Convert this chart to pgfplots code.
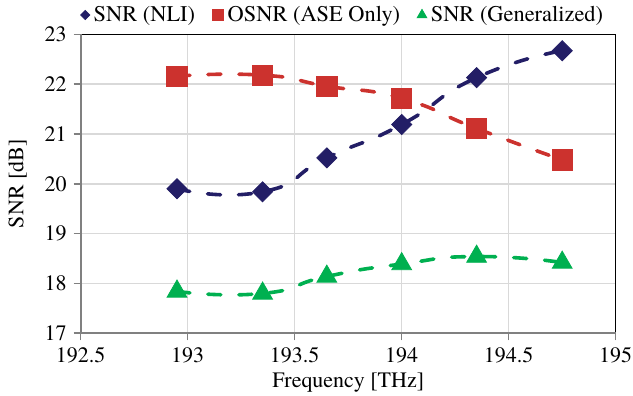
\documentclass[border=0pt]{standalone}
\usepackage{pgfplots}
\pgfplotsset{compat=1.18}
\usepackage{fontspec}
\setmainfont{texgyretermes}[Extension=.otf, UprightFont=*-regular, BoldFont=*-bold, ItalicFont=*-italic, BoldItalicFont=*-bolditalic]
\definecolor{cnavy}{RGB}{35,30,102}
\definecolor{cred}{RGB}{204,50,46}
\definecolor{cgreen}{RGB}{0,176,80}
\definecolor{cgrid}{RGB}{217,217,217}
\definecolor{caxis}{RGB}{128,128,128}
\begin{document}
\rmfamily
\begin{tikzpicture}[font=\rmfamily]
\begin{axis}[
  scale only axis,
  width=267.5pt, height=149.5pt,
  xmin=192.5, xmax=195, ymin=17, ymax=23,
  xtick={192.5,193,193.5,194,194.5,195},
  ytick={17,18,19,20,21,22,23},
  xticklabels={192.5,193,193.5,194,194.5,195},
  /pgf/number format/assume math mode=true,
  tick label style={font=\rmfamily\fontsize{11}{13}\selectfont},
  grid=major,
  major grid style={cgrid, line width=0.75pt},
  axis line style={black, line width=0.7pt},
  tick align=outside, tick pos=left,
  major tick length=3.5pt,
  every tick/.style={caxis, line width=0.8pt},
  xlabel={Frequency [THz]},
  ylabel={SNR [dB]},
  every axis x label/.style={at={(rel axis cs:0.5,0)}, anchor=base, yshift=-27.3pt, font=\rmfamily\fontsize{11}{13}\selectfont},
  every axis y label/.style={at={(rel axis cs:0,0.5)}, anchor=center, rotate=90, yshift=31.6pt, font=\rmfamily\fontsize{11}{13}\selectfont},
  legend style={at={(0.492,1.0645)}, anchor=center, draw=none, fill=none,
    legend columns=3, font=\rmfamily\fontsize{11.2}{13}\selectfont,
    /tikz/every even column/.append style={column sep=6.5pt},
    inner sep=0pt},
  legend image code/.code={\path[#1] plot coordinates {(2.5pt,0pt)};},
  legend cell align=left,
  clip=false,
]
\addplot[cnavy, line width=1.8pt, dash pattern=on 6.5pt off 9pt, line cap=round, smooth, tension=1, forget plot]
  coordinates {(192.95,19.9) (193.35,19.84) (193.65,20.52) (194.0,21.19) (194.35,22.13) (194.75,22.67)};
\addplot[cred, line width=1.8pt, dash pattern=on 6.5pt off 9pt, line cap=round, smooth, tension=1, forget plot]
  coordinates {(192.95,22.16) (193.35,22.18) (193.65,21.96) (194.0,21.71) (194.35,21.11) (194.75,20.48)};
\addplot[cgreen, line width=1.8pt, dash pattern=on 6.5pt off 9pt, line cap=round, smooth, tension=1, forget plot]
  coordinates {(192.95,17.84) (193.35,17.8) (193.65,18.14) (194.0,18.39) (194.35,18.54) (194.75,18.42)};
\addplot[only marks, mark=square*, mark size=3.55pt, mark options={rotate=45, fill=cnavy, draw=cnavy, solid}, forget plot]
  coordinates {(192.95,19.9) (193.35,19.84) (193.65,20.52) (194.0,21.19) (194.35,22.13) (194.75,22.67)};
\addplot[only marks, mark=square*, mark size=5.1pt, mark options={fill=cred, draw=cred, solid}, forget plot]
  coordinates {(192.95,22.16) (193.35,22.18) (193.65,21.96) (194.0,21.71) (194.35,21.11) (194.75,20.48)};
\addplot[only marks, mark=triangle*, mark size=5.7pt, mark options={fill=cgreen, draw=cgreen, solid}, forget plot]
  coordinates {(192.95,17.84) (193.35,17.8) (193.65,18.14) (194.0,18.39) (194.35,18.54) (194.75,18.42)};
\addlegendimage{only marks, mark=square*, mark size=1.6pt, mark options={rotate=45, fill=cnavy, draw=cnavy}}
\addlegendentry{SNR (NLI)}
\addlegendimage{only marks, mark=square*, mark size=2.9pt, mark options={fill=cred, draw=cred}}
\addlegendentry{OSNR (ASE Only)}
\addlegendimage{only marks, mark=triangle*, mark size=2.8pt, mark options={fill=cgreen, draw=cgreen}}
\addlegendentry{SNR (Generalized)}
\draw[caxis, line width=1pt] (rel axis cs:0,1) -- (rel axis cs:0,0) -- (rel axis cs:1,0);
\coordinate (ll) at (rel axis cs:0,0);
\coordinate (ur) at (rel axis cs:1,1);
\end{axis}
\pgfresetboundingbox
\path ([shift={(-40.35pt,-31.35pt)}]ll) rectangle ([shift={(8.65pt,17.15pt)}]ur);
\end{tikzpicture}
\end{document}
